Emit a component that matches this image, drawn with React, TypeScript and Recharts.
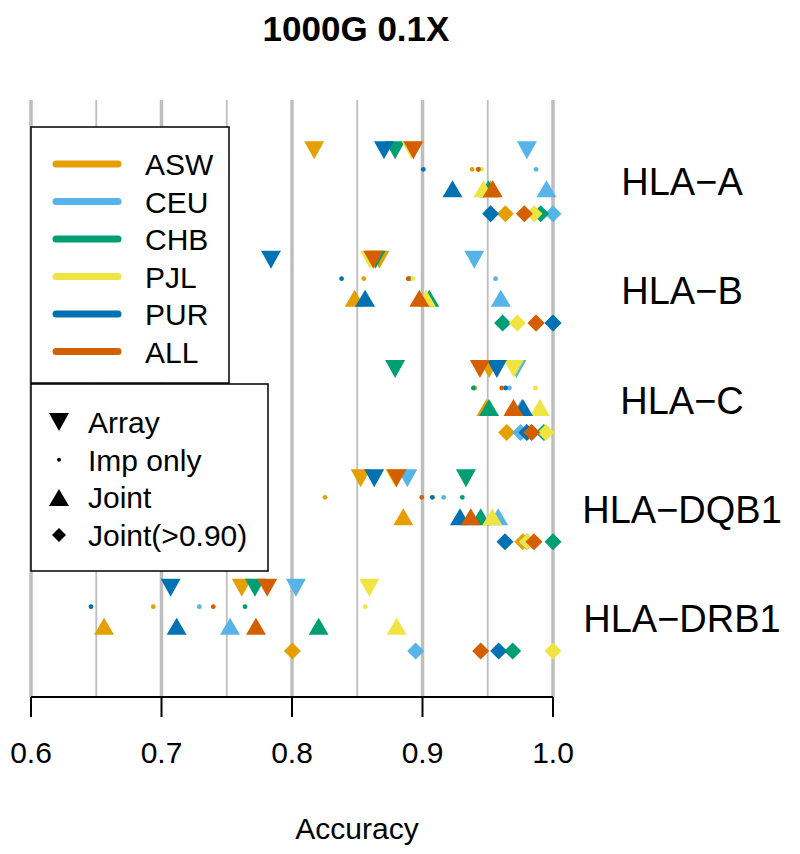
import React from 'react';
import { ScatterChart, Scatter, XAxis, YAxis, ReferenceLine } from 'recharts';

const GENES = ['HLA\u2212A', 'HLA\u2212B', 'HLA\u2212C', 'HLA\u2212DQB1', 'HLA\u2212DRB1'];
const POPS = ['ASW', 'CEU', 'CHB', 'PJL', 'PUR', 'ALL'];
const COLORS = ['#E69F00', '#56B4E9', '#009E73', '#F0E442', '#0072B2', '#D55E00'];
const METHODS = ['Array', 'Imp only', 'Joint', 'Joint(>0.90)'];

// accuracy per population (rows, POPS order), per gene (columns, GENES order)
const ARRAY_ACC = [
  [0.817, 0.867, 0.951, 0.8526, 0.7615],
  [0.98, 0.9397, 0.972, 0.8884, 0.803],
  [0.879, 0.864, 0.879, 0.9333, 0.7716],
  [0.8917, 0.8598, 0.97, 0.879, 0.8592],
  [0.8705, 0.7839, 0.957, 0.863, 0.707],
  [0.893, 0.8623, 0.944, 0.88, 0.781],
];
const IMP_ACC = [
  [0.938, 0.855, 0.94, 0.8253, 0.6937],
  [0.987, 0.956, 0.9666, 0.9162, 0.729],
  [0.943, 0.89, 0.939, 0.9305, 0.764],
  [0.9453, 0.8925, 0.9865, 0.908, 0.8562],
  [0.9006, 0.838, 0.9637, 0.9075, 0.646],
  [0.9428, 0.889, 0.9607, 0.8994, 0.7397],
];
const JOINT_ACC = [
  [0.952, 0.848, 0.949, 0.8853, 0.656],
  [0.995, 0.96, 0.976, 0.958, 0.7525],
  [0.9505, 0.9052, 0.951, 0.9446, 0.8204],
  [0.9466, 0.9027, 0.99, 0.9535, 0.8802],
  [0.923, 0.856, 0.977, 0.9287, 0.7116],
  [0.9538, 0.8976, 0.9697, 0.937, 0.7724],
];
const JOINT90_ACC = [
  [0.9635, 0.987, 0.9645, 0.9768, 0.8003],
  [1.0, 1.0, 0.9752, 0.98, 0.8948],
  [0.9906, 0.9614, 0.993, 1.0, 0.9691],
  [0.9855, 0.9727, 0.9946, 0.9803, 1.0],
  [0.9522, 1.0, 0.98, 0.9632, 0.9584],
  [0.978, 0.987, 0.9837, 0.9854, 0.9446],
];

const X_TICKS = [0.6, 0.7, 0.8, 0.9, 1.0];
const GRID_MAJOR = [0.6, 0.7, 0.8, 0.9, 1.0];
const GRID_MINOR = [0.65, 0.75, 0.85, 0.95];

const FONT = '"Liberation Sans", Arial, Helvetica, sans-serif';
const ALL_ACC = [ARRAY_ACC, IMP_ACC, JOINT_ACC, JOINT90_ACC];
const ROW_OFFSET = [0, 0.87, 1.76, 2.9];
const GROUP_STEP = 5;
const LABEL_TICKS = GENES.map((_, g) => g * GROUP_STEP + 1.45);

const buildSeries = (p: number) => {
  const pts: { x: number; y: number; t: number }[] = [];
  GENES.forEach((_, g) => {
    ALL_ACC.forEach((acc, t) => {
      pts.push({ x: acc[p][g], y: g * GROUP_STEP + ROW_OFFSET[t], t });
    });
  });
  return pts;
};

const Marker = (props: any) => {
  const { cx, cy, fill, payload } = props;
  if (cx == null || cy == null) return null;
  const t = payload.t;
  if (t === 0) {
    return <polygon points={`${cx - 10},${cy - 9} ${cx + 10},${cy - 9} ${cx},${cy + 9}`} fill={fill} />;
  }
  if (t === 1) {
    return <circle cx={cx} cy={cy} r={2.4} fill={fill} />;
  }
  if (t === 2) {
    return <polygon points={`${cx - 10},${cy + 8.5} ${cx + 10},${cy + 8.5} ${cx},${cy - 8.5}`} fill={fill} />;
  }
  return <polygon points={`${cx},${cy - 8.5} ${cx + 8.5},${cy} ${cx},${cy + 8.5} ${cx - 8.5},${cy}`} fill={fill} />;
};

const XTick = ({ x, y, payload }: any) => (
  <text x={x} y={y + 44} textAnchor="middle" fontSize={30} fontFamily={FONT} fill="#000">
    {Number(payload.value).toFixed(1)}
  </text>
);

const GeneTick = ({ y, payload }: any) => {
  const idx = Math.round((payload.value - 1.45) / GROUP_STEP);
  return (
    <text x={674} y={y + 13} textAnchor="middle" fontSize={38} fontFamily={FONT} fill="#000">
      {GENES[idx]}
    </text>
  );
};

const LegendSymbol = ({ t, x, y }: { t: number; x: number; y: number }) => {
  if (t === 0) return <polygon points={`${x - 10},${y - 9} ${x + 10},${y - 9} ${x},${y + 9}`} fill="#000" />;
  if (t === 1) return <circle cx={x} cy={y} r={2} fill="#000" />;
  if (t === 2) return <polygon points={`${x - 10},${y + 8.5} ${x + 10},${y + 8.5} ${x},${y - 8.5}`} fill="#000" />;
  return <polygon points={`${x},${y - 7} ${x + 7},${y} ${x},${y + 7} ${x - 7},${y}`} fill="#000" />;
};

export default function App() {
  return (
    <div style={{ position: 'relative', width: 784, height: 838, fontFamily: FONT }}>
      <ScatterChart width={784} height={838} margin={{ top: 92, right: 0, bottom: 0, left: 23 }}>
        {GRID_MINOR.map((v) => (
          <ReferenceLine key={`mn${v}`} x={v} stroke="#bebebe" strokeWidth={1.8} ifOverflow="visible" />
        ))}
        {GRID_MAJOR.map((v) => (
          <ReferenceLine key={`mj${v}`} x={v} stroke="#bebebe" strokeWidth={3.5} ifOverflow="visible" />
        ))}
        <XAxis
          type="number"
          dataKey="x"
          domain={[0.6, 1.0]}
          ticks={X_TICKS}
          height={149}
          tickSize={20}
          tick={<XTick />}
          axisLine={{ stroke: '#000', strokeWidth: 2 }}
          tickLine={{ stroke: '#000', strokeWidth: 2 }}
        />
        <YAxis
          type="number"
          dataKey="y"
          orientation="right"
          domain={[-2.3, 25]}
          reversed
          width={239}
          ticks={LABEL_TICKS}
          tick={<GeneTick />}
          tickLine={false}
          axisLine={false}
        />
        {POPS.map((pop, p) => (
          <Scatter
            key={pop}
            name={pop}
            data={buildSeries(p)}
            fill={COLORS[p]}
            shape={<Marker />}
            isAnimationActive={false}
            legendType="none"
          />
        ))}
      </ScatterChart>
      <svg
        width={784}
        height={838}
        style={{ position: 'absolute', left: 0, top: 0, pointerEvents: 'none' }}
        fontFamily={FONT}
      >
        <text x={348} y={33} textAnchor="middle" fontSize={35} fontWeight="bold" fill="#000">
          1000G 0.1X
        </text>
        <text x={349} y={831} textAnchor="middle" fontSize={30} fill="#000">
          Accuracy
        </text>
        <rect x={23} y={119} width={198} height={256} fill="#fff" stroke="#000" strokeWidth={1.5} />
        {POPS.map((pop, p) => {
          const cy = 156 + p * 37.5;
          return (
            <g key={pop}>
              <line x1={48} x2={110} y1={cy} y2={cy} stroke={COLORS[p]} strokeWidth={7} strokeLinecap="round" />
              <text x={137} y={cy + 11} fontSize={30} fill="#000">
                {pop}
              </text>
            </g>
          );
        })}
        <rect x={23} y={376} width={237} height={187} fill="#fff" stroke="#000" strokeWidth={1.5} />
        {METHODS.map((m, t) => {
          const cy = 414 + t * 37.7;
          return (
            <g key={m}>
              <LegendSymbol t={t} x={51} y={cy} />
              <text x={80} y={cy + 11} fontSize={30} fill="#000">
                {m}
              </text>
            </g>
          );
        })}
      </svg>
    </div>
  );
}
